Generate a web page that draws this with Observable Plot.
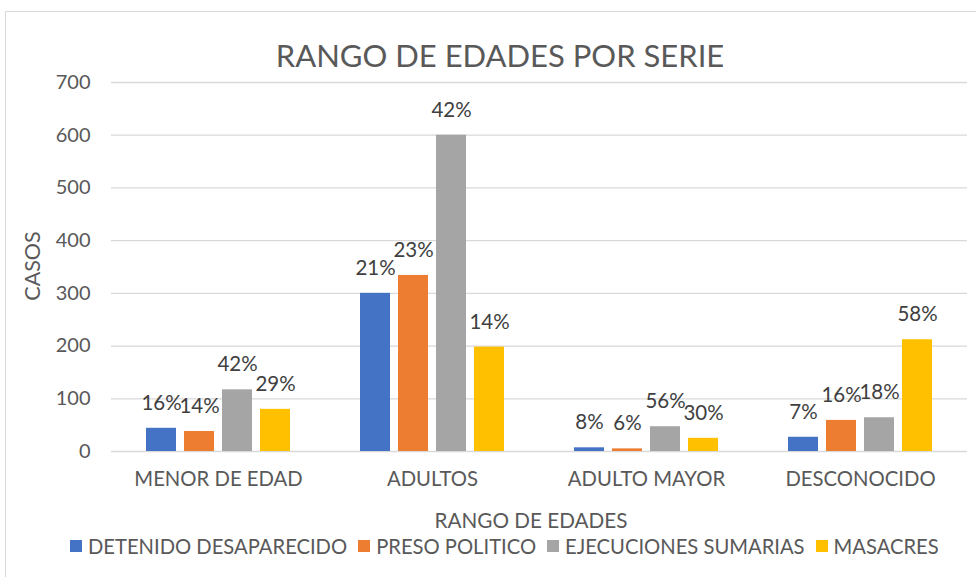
<!DOCTYPE html>
<html><head><meta charset="utf-8">
<script src="https://cdn.jsdelivr.net/npm/d3@7"></script>
<script src="https://cdn.jsdelivr.net/npm/@observablehq/plot@0.6"></script>
<style>
html,body{margin:0;padding:0;background:#fff;}
#wrap{position:relative;width:976px;height:577px;overflow:hidden;font-family:Lato,"Open Sans",sans-serif;color:#595959;}
#frame{position:absolute;left:5px;top:11px;width:1000px;height:600px;border:1px solid #d9d9d9;box-sizing:border-box;}
#title{position:absolute;left:0;width:1000px;top:36px;text-align:center;font-size:31px;line-height:38px;}
#ylab{position:absolute;left:32px;top:266px;transform:translate(-50%,-50%) rotate(-90deg);font-size:21.5px;white-space:nowrap;}
#xlab{position:absolute;left:531px;top:508px;transform:translateX(-50%);font-size:20.7px;white-space:nowrap;}
#legend{position:absolute;left:70px;top:534px;display:flex;font-size:20.2px;white-space:nowrap;align-items:center;}
#legend .it{display:flex;align-items:center;margin-right:11px;}
#legend .sw{width:12px;height:12px;margin-right:6px;}
#chart{position:absolute;left:0;top:0;}
</style></head>
<body><div id="wrap"><div id="frame"></div><div id="chart"></div>
<div id="title">RANGO DE EDADES POR SERIE</div>
<div id="ylab">CASOS</div>
<div id="xlab">RANGO DE EDADES</div>
<div id="legend"></div>
</div>
<script>
const categories = ["MENOR DE EDAD", "ADULTOS", "ADULTO MAYOR", "DESCONOCIDO"];
const series = ["DETENIDO DESAPARECIDO", "PRESO POLITICO", "EJECUCIONES SUMARIAS", "MASACRES"];
const colors = ["#4472C4", "#ED7D31", "#A5A5A5", "#FFC000"];
const detenido = [44, 300, 7, 27];
const preso = [38, 334, 5, 59];
const ejecuciones = [117, 600, 47, 64];
const masacres = [80, 198, 25, 212];
const pctDetenido = ["16%", "21%", "8%", "7%"];
const pctPreso = ["14%", "23%", "6%", "16%"];
const pctEjecuciones = ["42%", "42%", "56%", "18%"];
const pctMasacres = ["29%", "14%", "30%", "58%"];
const yTicks = [0, 100, 200, 300, 400, 500, 600, 700];

const vals = [detenido, preso, ejecuciones, masacres];
const pcts = [pctDetenido, pctPreso, pctEjecuciones, pctMasacres];
const data = [];
categories.forEach((c, i) => series.forEach((s, j) => data.push({cat: c, ser: s, v: vals[j][i], p: pcts[j][i]})));

const chart = Plot.plot({
  width: 976, height: 577,
  marginTop: 82, marginBottom: 126, marginLeft: 111, marginRight: 9,
  style: {fontFamily: "Lato, 'Open Sans', sans-serif", background: "transparent", color: "#595959"},
  fx: {domain: categories, padding: 0, label: null},
  x: {domain: series, paddingInner: 0.21, paddingOuter: 0.87, axis: null},
  y: {domain: [0, 700], label: null},
  color: {domain: series, range: colors},
  marks: [
    Plot.gridY(yTicks, {stroke: "#d9d9d9", strokeOpacity: 1, strokeWidth: 1.3}),
    Plot.axisY({ticks: yTicks, tickSize: 0, tickPadding: 21, fontSize: 20, fill: "#595959", label: null}),
    Plot.axisFx({anchor: "bottom", tickSize: 0, tickPadding: 20, fontSize: 20.3, fill: "#595959", label: null}),
    Plot.barY(data, {fx: "cat", x: "ser", y: "v", fill: "ser"}),
    Plot.text(data, {fx: "cat", x: "ser", y: "v", text: "p", dy: -25, fontSize: 20.5, fill: "#404040"})
  ]
});
document.getElementById("chart").appendChild(chart);

const lg = document.getElementById("legend");
series.forEach((s, j) => {
  const it = document.createElement("div"); it.className = "it";
  const sw = document.createElement("div"); sw.className = "sw"; sw.style.background = colors[j];
  const t = document.createElement("span"); t.textContent = s;
  it.appendChild(sw); it.appendChild(t); lg.appendChild(it);
});
</script></body></html>
